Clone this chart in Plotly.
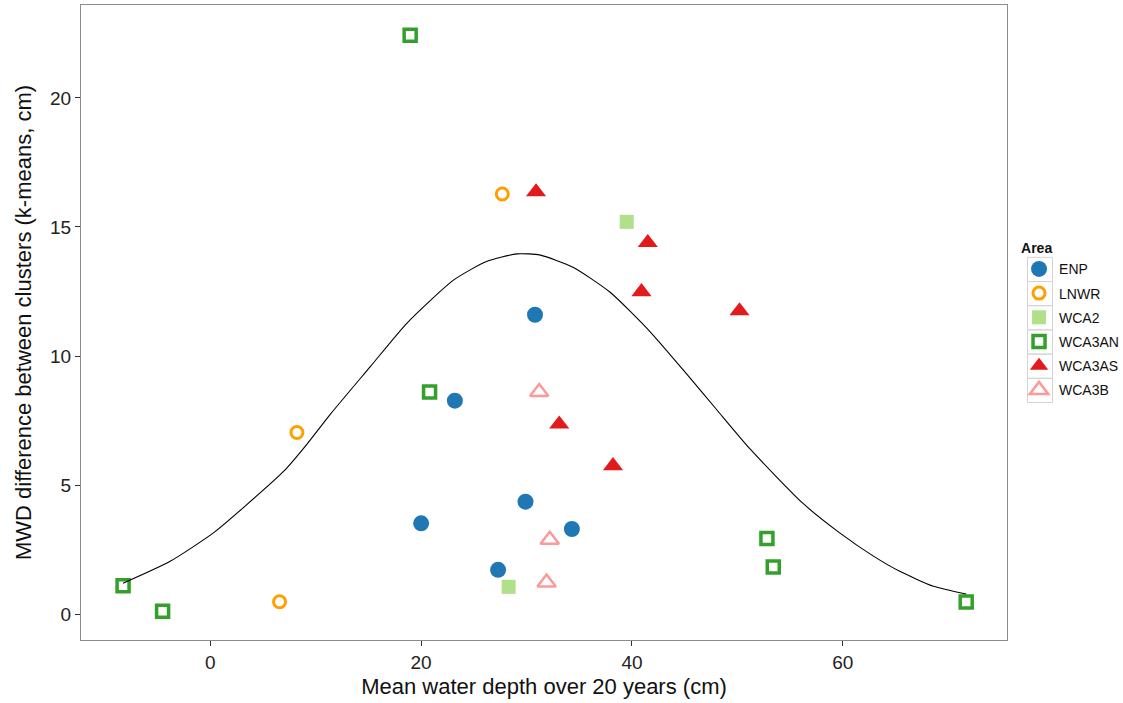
import plotly.graph_objects as go

# Mean water depth (x, cm) and MWD difference between clusters (y, cm) by area
enp_x = [30.8, 23.2, 29.9, 20.0, 34.3, 27.3]
enp_y = [11.6, 8.27, 4.36, 3.52, 3.30, 1.72]

lnwr_x = [27.7, 8.22, 6.57]
lnwr_y = [16.28, 7.04, 0.48]

wca2_x = [39.5, 28.3]
wca2_y = [15.2, 1.06]

wca3an_x = [18.96, 20.8, -8.27, -4.52, 52.8, 53.4, 71.7]
wca3an_y = [22.43, 8.61, 1.10, 0.11, 2.93, 1.83, 0.47]

wca3as_x = [30.9, 41.5, 40.9, 50.2, 33.1, 38.2]
wca3as_y = [16.36, 14.39, 12.49, 11.75, 7.36, 5.75]

wca3b_x = [31.2, 32.2, 31.9]
wca3b_y = [8.61, 2.88, 1.23]

# Fitted curve
fit_x = [-8.27, -3.8, 0.3, 3.2, 7.0, 9.2, 11.4, 15.2, 18.6, 23.1, 26.2, 29.1,
         31.3, 34.4, 37.9, 41.7, 45.2, 48.0, 51.2, 56.2, 59.7, 62.9, 65.4, 68.6, 71.7]
fit_y = [1.2, 2.05, 3.15, 4.15, 5.55, 6.6, 7.75, 9.6, 11.25, 12.95, 13.66, 13.96,
         13.91, 13.44, 12.48, 10.95, 9.3, 7.94, 6.4, 4.3, 3.15, 2.25, 1.66, 1.08, 0.78]

FONT = "Liberation Sans, Arial, sans-serif"

W, H = 1123, 703
M_L, M_R, M_T, M_B = 81, 116, 5, 63
PLOT_W = W - M_L - M_R
PLOT_H = H - M_T - M_B

series = [
    ("ENP", enp_x, enp_y, dict(symbol="circle", size=16, color="#1F78B4")),
    ("LNWR", lnwr_x, lnwr_y, dict(symbol="circle-open", size=12, color="#FFA000",
                                  line=dict(width=3, color="#FFA000"))),
    ("WCA2", wca2_x, wca2_y, dict(symbol="square", size=14, color="#B2DF8A")),
    ("WCA3AN", wca3an_x, wca3an_y, dict(symbol="square-open", size=12, color="#33A02C",
                                        line=dict(width=3.5, color="#33A02C"))),
    ("WCA3AS", wca3as_x, wca3as_y, dict(symbol="triangle-up", size=17.5, color="#E31A1C")),
    ("WCA3B", wca3b_x, wca3b_y, dict(symbol="triangle-up-open", size=16, color="#FB9A99",
                                     line=dict(width=2.5, color="#FB9A99"))),
]

fig = go.Figure()
for name, xs, ys, mk in series:
    fig.add_trace(go.Scatter(x=xs, y=ys, mode="markers", name=name, marker=mk,
                             legendgroup=name))

fig.add_trace(go.Scatter(x=fit_x, y=fit_y, mode="lines", showlegend=False,
                         line=dict(color="black", width=1.1, shape="spline", smoothing=0.6)))

# Grey frames around the legend keys
KEY_LEFT, KEY_RIGHT = 1027.5, 1052.5
KEY_TOP, KEY_STEP = 257.3, 24.2
key_boxes = []
for i in range(len(series)):
    top = KEY_TOP + i * KEY_STEP
    key_boxes.append(dict(
        type="rect", xref="paper", yref="paper",
        x0=(KEY_LEFT - M_L) / PLOT_W, x1=(KEY_RIGHT - M_L) / PLOT_W,
        y0=(H - M_B - top) / PLOT_H, y1=(H - M_B - top - KEY_STEP) / PLOT_H,
        line=dict(color="#d4d4d4", width=1), fillcolor="rgba(0,0,0,0)", layer="below",
    ))

axis_common = dict(
    showgrid=False, zeroline=False, showline=True, mirror=True,
    linecolor="#8c8c8c", linewidth=1.2,
    ticks="outside", ticklen=5, tickwidth=1.2, tickcolor="#333333",
    tickfont=dict(family=FONT, size=19, color="#222222"),
    title_font=dict(family=FONT, size=22, color="#111111"),
)

fig.update_layout(
    width=W, height=H,
    margin=dict(l=M_L, r=M_R, t=M_T, b=M_B, autoexpand=False),
    paper_bgcolor="white", plot_bgcolor="white",
    font=dict(family=FONT),
    shapes=key_boxes,
    xaxis=dict(range=[-12.26, 75.57], tickvals=[0, 20, 40, 60],
               title=dict(text="Mean water depth over 20 years (cm)", standoff=6),
               **axis_common),
    yaxis=dict(range=[-1.0, 23.6], tickvals=[0, 5, 10, 15, 20],
               title=dict(text="MWD difference between clusters (k-means, cm)", standoff=12),
               **axis_common),
    legend=dict(
        title=dict(text="<b>Area</b>", font=dict(family=FONT, size=14, color="#111111")),
        font=dict(family=FONT, size=14, color="#111111"),
        x=1.013, xanchor="left", y=0.503, yanchor="middle",
        tracegroupgap=3, bgcolor="rgba(0,0,0,0)",
    ),
)

fig.write_html("out.html")
